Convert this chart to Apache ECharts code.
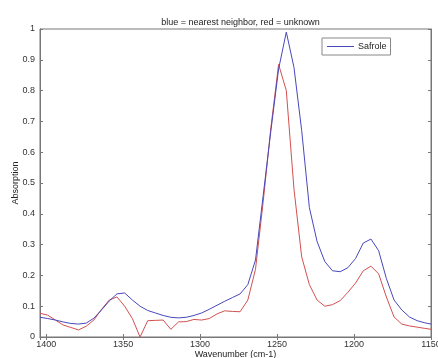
<!DOCTYPE html>
<html>
<head>
<meta charset="utf-8">
<script src="https://cdn.jsdelivr.net/npm/echarts@6/dist/echarts.min.js"></script>
<style>
html,body{margin:0;padding:0;background:#fff;}
#chart{width:438px;height:358px;}
</style>
</head>
<body>
<div id="chart"></div>
<script>
// Wavenumber (cm-1) sample positions
var wavenumbers = [1404,1399,1394,1389,1384,1379,1374,1369,1364,1359,1354,1349,1344,1339,1334,1329,1324,1319,1314,1309,1304,1299,1294,1289,1284,1279,1274,1269,1264,1259,1254,1249,1244,1239,1234,1229,1224,1219,1214,1209,1204,1199,1194,1189,1184,1179,1174,1169,1164,1159,1154,1150];
// blue = nearest neighbor (Safrole)
var nearestNeighbor = [0.064,0.060,0.055,0.049,0.044,0.042,0.045,0.061,0.088,0.117,0.140,0.143,0.120,0.100,0.086,0.078,0.070,0.064,0.062,0.064,0.070,0.078,0.090,0.103,0.116,0.128,0.140,0.170,0.250,0.460,0.670,0.870,0.990,0.875,0.670,0.420,0.310,0.245,0.215,0.212,0.225,0.255,0.305,0.318,0.280,0.190,0.120,0.088,0.065,0.053,0.046,0.042];
// red = unknown
var unknown = [0.077,0.071,0.055,0.039,0.031,0.023,0.035,0.055,0.090,0.120,0.130,0.100,0.060,0.000,0.053,0.054,0.055,0.025,0.049,0.050,0.057,0.055,0.060,0.075,0.085,0.083,0.082,0.120,0.220,0.440,0.680,0.885,0.800,0.480,0.260,0.170,0.120,0.100,0.105,0.118,0.145,0.175,0.215,0.230,0.205,0.130,0.065,0.042,0.036,0.032,0.028,0.025];
var xTicks = [1400,1350,1300,1250,1200,1150];
var yTicks = [0,0.1,0.2,0.3,0.4,0.5,0.6,0.7,0.8,0.9,1];

var blueSeries = wavenumbers.map(function(w,i){return [w, nearestNeighbor[i]];});
var redSeries = wavenumbers.map(function(w,i){return [w, unknown[i]];});

var axisColor = '#777';
var labelColor = '#333';
var font = 'Liberation Sans, Arial, sans-serif';

var chart = echarts.init(document.getElementById('chart'), null, {renderer:'canvas'});
chart.setOption({
  animation: false,
  backgroundColor: '#fff',
  title: {
    text: 'blue = nearest neighbor, red = unknown',
    left: 235.5, top: 13, textAlign: 'center',
    textStyle: {fontSize: 9, fontWeight: 'normal', color: '#222', fontFamily: font}
  },
  legend: {
    data: [{name: 'Safrole', icon: 'rect'}],
    left: 322, top: 38,
    itemWidth: 27, itemHeight: 1, itemGap: 4,
    padding: [4, 4, 4, 5],
    borderColor: '#888', borderWidth: 1, backgroundColor: '#fff',
    textStyle: {fontSize: 9, color: '#222', fontFamily: font, padding: [0,0,0,-1]}
  },
  grid: {left: 40, right: 7, top: 29, bottom: 21, show: true, borderColor: axisColor, borderWidth: 1, backgroundColor: 'transparent', containLabel: false, outerBoundsMode: 'none'},
  xAxis: [{
    type: 'value', inverse: true, min: 1150, max: 1404, interval: 50,
    name: 'Wavenumber (cm-1)', nameLocation: 'middle', nameGap: 13, nameMoveOverlap: false,
    nameTextStyle: {fontSize: 9, color: '#222', fontFamily: font},
    axisLine: {show: true, lineStyle: {color: axisColor}},
    axisTick: {inside: true, length: 3, lineStyle: {color: axisColor}},
    axisLabel: {fontSize: 9, color: labelColor, fontFamily: font, margin: 3, hideOverlap: false,
      formatter: function(v){ return xTicks.indexOf(v) >= 0 ? String(v) : ''; }},
    splitLine: {show: false}
  },{
    type: 'value', inverse: true, min: 1150, max: 1404, interval: 50, position: 'top',
    axisLine: {show: true, lineStyle: {color: axisColor}},
    axisTick: {inside: true, length: 3, lineStyle: {color: axisColor}},
    axisLabel: {show: false}, splitLine: {show: false}
  }],
  yAxis: [{
    type: 'value', min: 0, max: 1, interval: 0.1,
    name: 'Absorption', nameLocation: 'middle', nameGap: 20, nameMoveOverlap: false,
    nameTextStyle: {fontSize: 9, color: '#222', fontFamily: font},
    axisLine: {show: true, lineStyle: {color: axisColor}},
    axisTick: {inside: true, length: 3, lineStyle: {color: axisColor}},
    axisLabel: {fontSize: 9, color: labelColor, fontFamily: font, margin: 5,
      formatter: function(v){
        var r = Math.round(v*10)/10;
        return yTicks.indexOf(r) >= 0 ? String(r) : '';
      }},
    splitLine: {show: false}
  },{
    type: 'value', min: 0, max: 1, interval: 0.1, position: 'right',
    axisLine: {show: true, lineStyle: {color: axisColor}},
    axisTick: {inside: true, length: 3, lineStyle: {color: axisColor}},
    axisLabel: {show: false}, splitLine: {show: false}
  }],
  series: [{
    name: 'Safrole', type: 'line', data: blueSeries, showSymbol: false, symbol: 'none',
    color: '#4848bc', lineStyle: {width: 1, color: '#4848bc'}, z: 3
  },{
    name: 'unknown', type: 'line', data: redSeries, showSymbol: false, symbol: 'none',
    color: '#d25050', lineStyle: {width: 1, color: '#d25050'}, z: 2
  }]
});
</script>
</body>
</html>
